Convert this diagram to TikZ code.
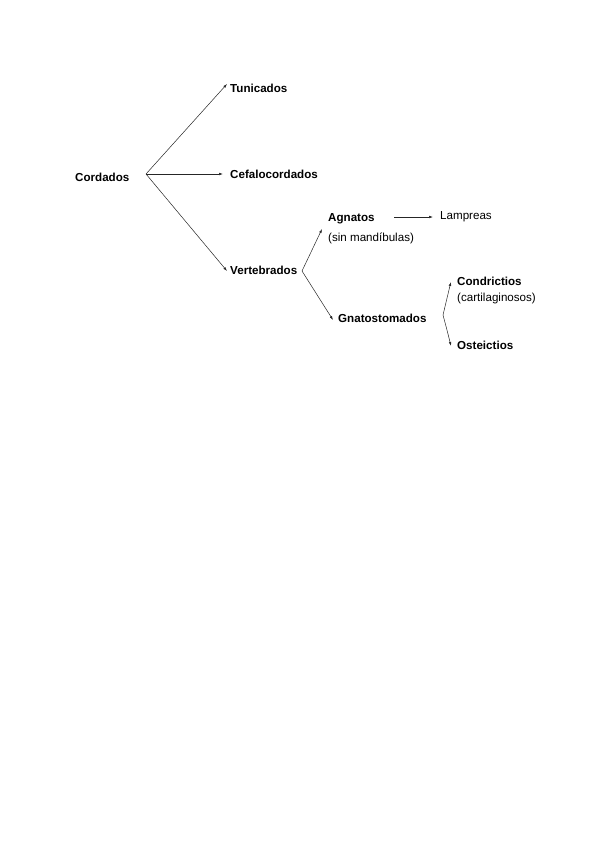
\documentclass[tikz,border=0pt]{standalone}
\usepackage{fontspec}
\setmainfont{Liberation Sans}
\usetikzlibrary{positioning, arrows.meta}
\tikzset{
	taxon/.style={anchor=west, inner sep=0pt, font=\fontsize{11.6}{13}\selectfont\bfseries},
	note/.style={anchor=west, inner sep=0pt, font=\fontsize{11.6}{13}\selectfont},
	arr/.style={black!85, line width=.5pt, -{Latex[length=4pt,width=2.6pt]}}
}

\begin{document}
\begin{tikzpicture}[x=1pt,y=-1pt]
\useasboundingbox (0,0) rectangle (600,848);
	\node[taxon] (cord) at (75,177) {Cordados};
	\node[taxon] (tuni) at (230,88) {Tunicados};
	\node[taxon] (cefa) at (230,174) {Cefalocordados};
	\node[taxon] (vert) at (230,270) {Vertebrados};
\node[taxon] (agna) at (328,219) {Agnatos};
\node[note] (agnasub) at (328,238) {(sin mandíbulas)};
\node[note] (lamp) at (440,217) {Lampreas};
\node[taxon] (gnat) at (338,318) {Gnatostomados};
\node[taxon] (cond) at (457,281) {Condrictios};
\node[note] (condsub) at (457,298) {(cartilaginosos)};
\node[taxon] (oste) at (457,345) {Osteictios};
\coordinate (c0) at (146,174);
\coordinate (v0) at (302,271);
\coordinate (g0) at (443,315);
% ramas
\draw[arr] (c0) -- ([xshift=-3pt,yshift=4pt]tuni.west);
\draw[arr] (c0) -- ([xshift=-7pt]cefa.west);
\draw[arr] (c0) -- ([xshift=-3pt,yshift=-1pt]vert.west);
\draw[arr] (v0) -- ([xshift=-6pt,yshift=-10pt]agna.west);
\draw[arr] (v0) -- ([xshift=-5pt,yshift=-2pt]gnat.west);
\draw[arr] ([xshift=-46pt]lamp.west) -- ([xshift=-7pt]lamp.west);
\draw[arr] (g0) .. controls (446,300) .. ([xshift=-6pt,yshift=-1pt]cond.west);
\draw[arr] (g0) .. controls (447,330) .. ([xshift=-6pt,yshift=-1pt]oste.west);
\end{tikzpicture}
\end{document}
